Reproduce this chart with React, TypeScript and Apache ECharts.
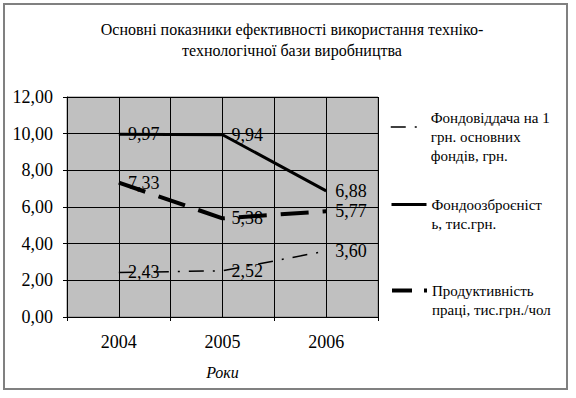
import React, { useEffect, useRef } from "react";
import * as echarts from "echarts";

const years = ["2004", "2005", "2006"];
const fondovid = [2.43, 2.52, 3.6];
const fondoozbr = [9.97, 9.94, 6.88];
const produkt = [7.33, 5.38, 5.77];
const seriesNames = [
  "Фондовіддача на 1\nгрн. основних\nфондів, грн.",
  "Фондоозброєніст\nь, тис.грн.",
  "Продуктивність\nпраці, тис.грн./чол",
];
const titleText = "Основні показники ефективності використання техніко-\nтехнологічної бази виробництва";
const xName = "Роки";

const FONT = "'Liberation Serif', 'Times New Roman', serif";
const fmt = (v: number) => v.toFixed(2).replace(".", ",");

const dashDot = [15, 9, 2, 9];
const longDash = [28, 14];

export default function App() {
  const ref = useRef<HTMLDivElement>(null);
  useEffect(() => {
    if (!ref.current) return;
    const chart = echarts.init(ref.current, undefined, { renderer: "svg" });
    const label = {
      show: true,
      position: "right" as const,
      distance: 9,
      color: "#000",
      fontFamily: FONT,
      fontSize: 18,
      formatter: (p: any) => fmt(p.value),
    };
    const legendBase = {
      orient: "vertical" as const,
      left: 390,
      padding: 0,
      itemWidth: 35,
      itemHeight: 10,
      itemStyle: { opacity: 0 },
      formatter: (name: string) => "\n" + name,
      textStyle: { fontFamily: FONT, fontSize: 15, color: "#000", lineHeight: 19 },
    };
    chart.setOption({
      animation: false,
      backgroundColor: "#fff",
      title: {
        text: titleText,
        left: 287,
        top: 14,
        textAlign: "center",
        textStyle: { fontFamily: FONT, fontSize: 16, fontWeight: "normal", color: "#000", lineHeight: 21 },
      },
      graphic: [
        {
          type: "rect",
          shape: { x: 4, y: 4, width: 563, height: 385 },
          style: { fill: "none", stroke: "#808080", lineWidth: 2 },
          silent: true,
        },
      ],
      legend: [
        { ...legendBase, top: 89, data: [seriesNames[0]], lineStyle: { width: 1.5, type: dashDot, color: "#000" } },
        { ...legendBase, top: 176, data: [seriesNames[1]], lineStyle: { width: 3, type: "solid", color: "#000" } },
        { ...legendBase, top: 262, data: [seriesNames[2]], lineStyle: { width: 4, type: [20, 12], color: "#000" } },
      ],
      grid: {
        left: 67,
        top: 97,
        width: 311,
        height: 220,
        show: true,
        backgroundColor: "#c0c0c0",
        borderColor: "#808080",
        borderWidth: 1,
      },
      xAxis: [
        {
          type: "category",
          data: years,
          boundaryGap: true,
          axisLine: { lineStyle: { color: "#000", width: 1 } },
          axisTick: { show: true, length: 4, lineStyle: { color: "#000" } },
          axisLabel: { fontFamily: FONT, fontSize: 18, color: "#000", margin: 16 },
          splitLine: { show: false },
          name: xName,
          nameLocation: "middle",
          nameGap: 47,
          nameTextStyle: { fontFamily: FONT, fontSize: 16, fontStyle: "italic", color: "#000" },
        },
        {
          type: "value",
          min: 0,
          max: 3,
          interval: 0.5,
          position: "bottom",
          axisLine: { show: false },
          axisTick: { show: false },
          axisLabel: { show: false },
          splitLine: { show: true, lineStyle: { color: "#000", width: 1 } },
        },
      ],
      yAxis: {
        type: "value",
        min: 0,
        max: 12,
        interval: 2,
        axisLine: { show: true, lineStyle: { color: "#000" } },
        axisTick: { show: true, length: 4, lineStyle: { color: "#000" } },
        axisLabel: { fontFamily: FONT, fontSize: 18, color: "#000", margin: 14, formatter: (v: number) => fmt(v) },
        splitLine: { show: true, lineStyle: { color: "#000", width: 1 } },
      },
      series: [
        {
          name: seriesNames[0],
          type: "line",
          data: fondovid,
          symbol: "circle",
          symbolSize: 0.1,
          lineStyle: { color: "#000", width: 1.5, type: dashDot },
          itemStyle: { color: "#000" },
          label,
          z: 3,
        },
        {
          name: seriesNames[1],
          type: "line",
          data: fondoozbr,
          symbol: "circle",
          symbolSize: 0.1,
          lineStyle: { color: "#000", width: 3, type: "solid" },
          itemStyle: { color: "#000" },
          label,
          z: 3,
        },
        {
          name: seriesNames[2],
          type: "line",
          data: produkt,
          symbol: "circle",
          symbolSize: 0.1,
          lineStyle: { color: "#000", width: 4, type: longDash },
          itemStyle: { color: "#000" },
          label,
          z: 3,
        },
      ],
    });
    return () => chart.dispose();
  }, []);
  return <div ref={ref} style={{ position: "fixed", left: 0, top: 0, width: 576, height: 398 }} />;
}
